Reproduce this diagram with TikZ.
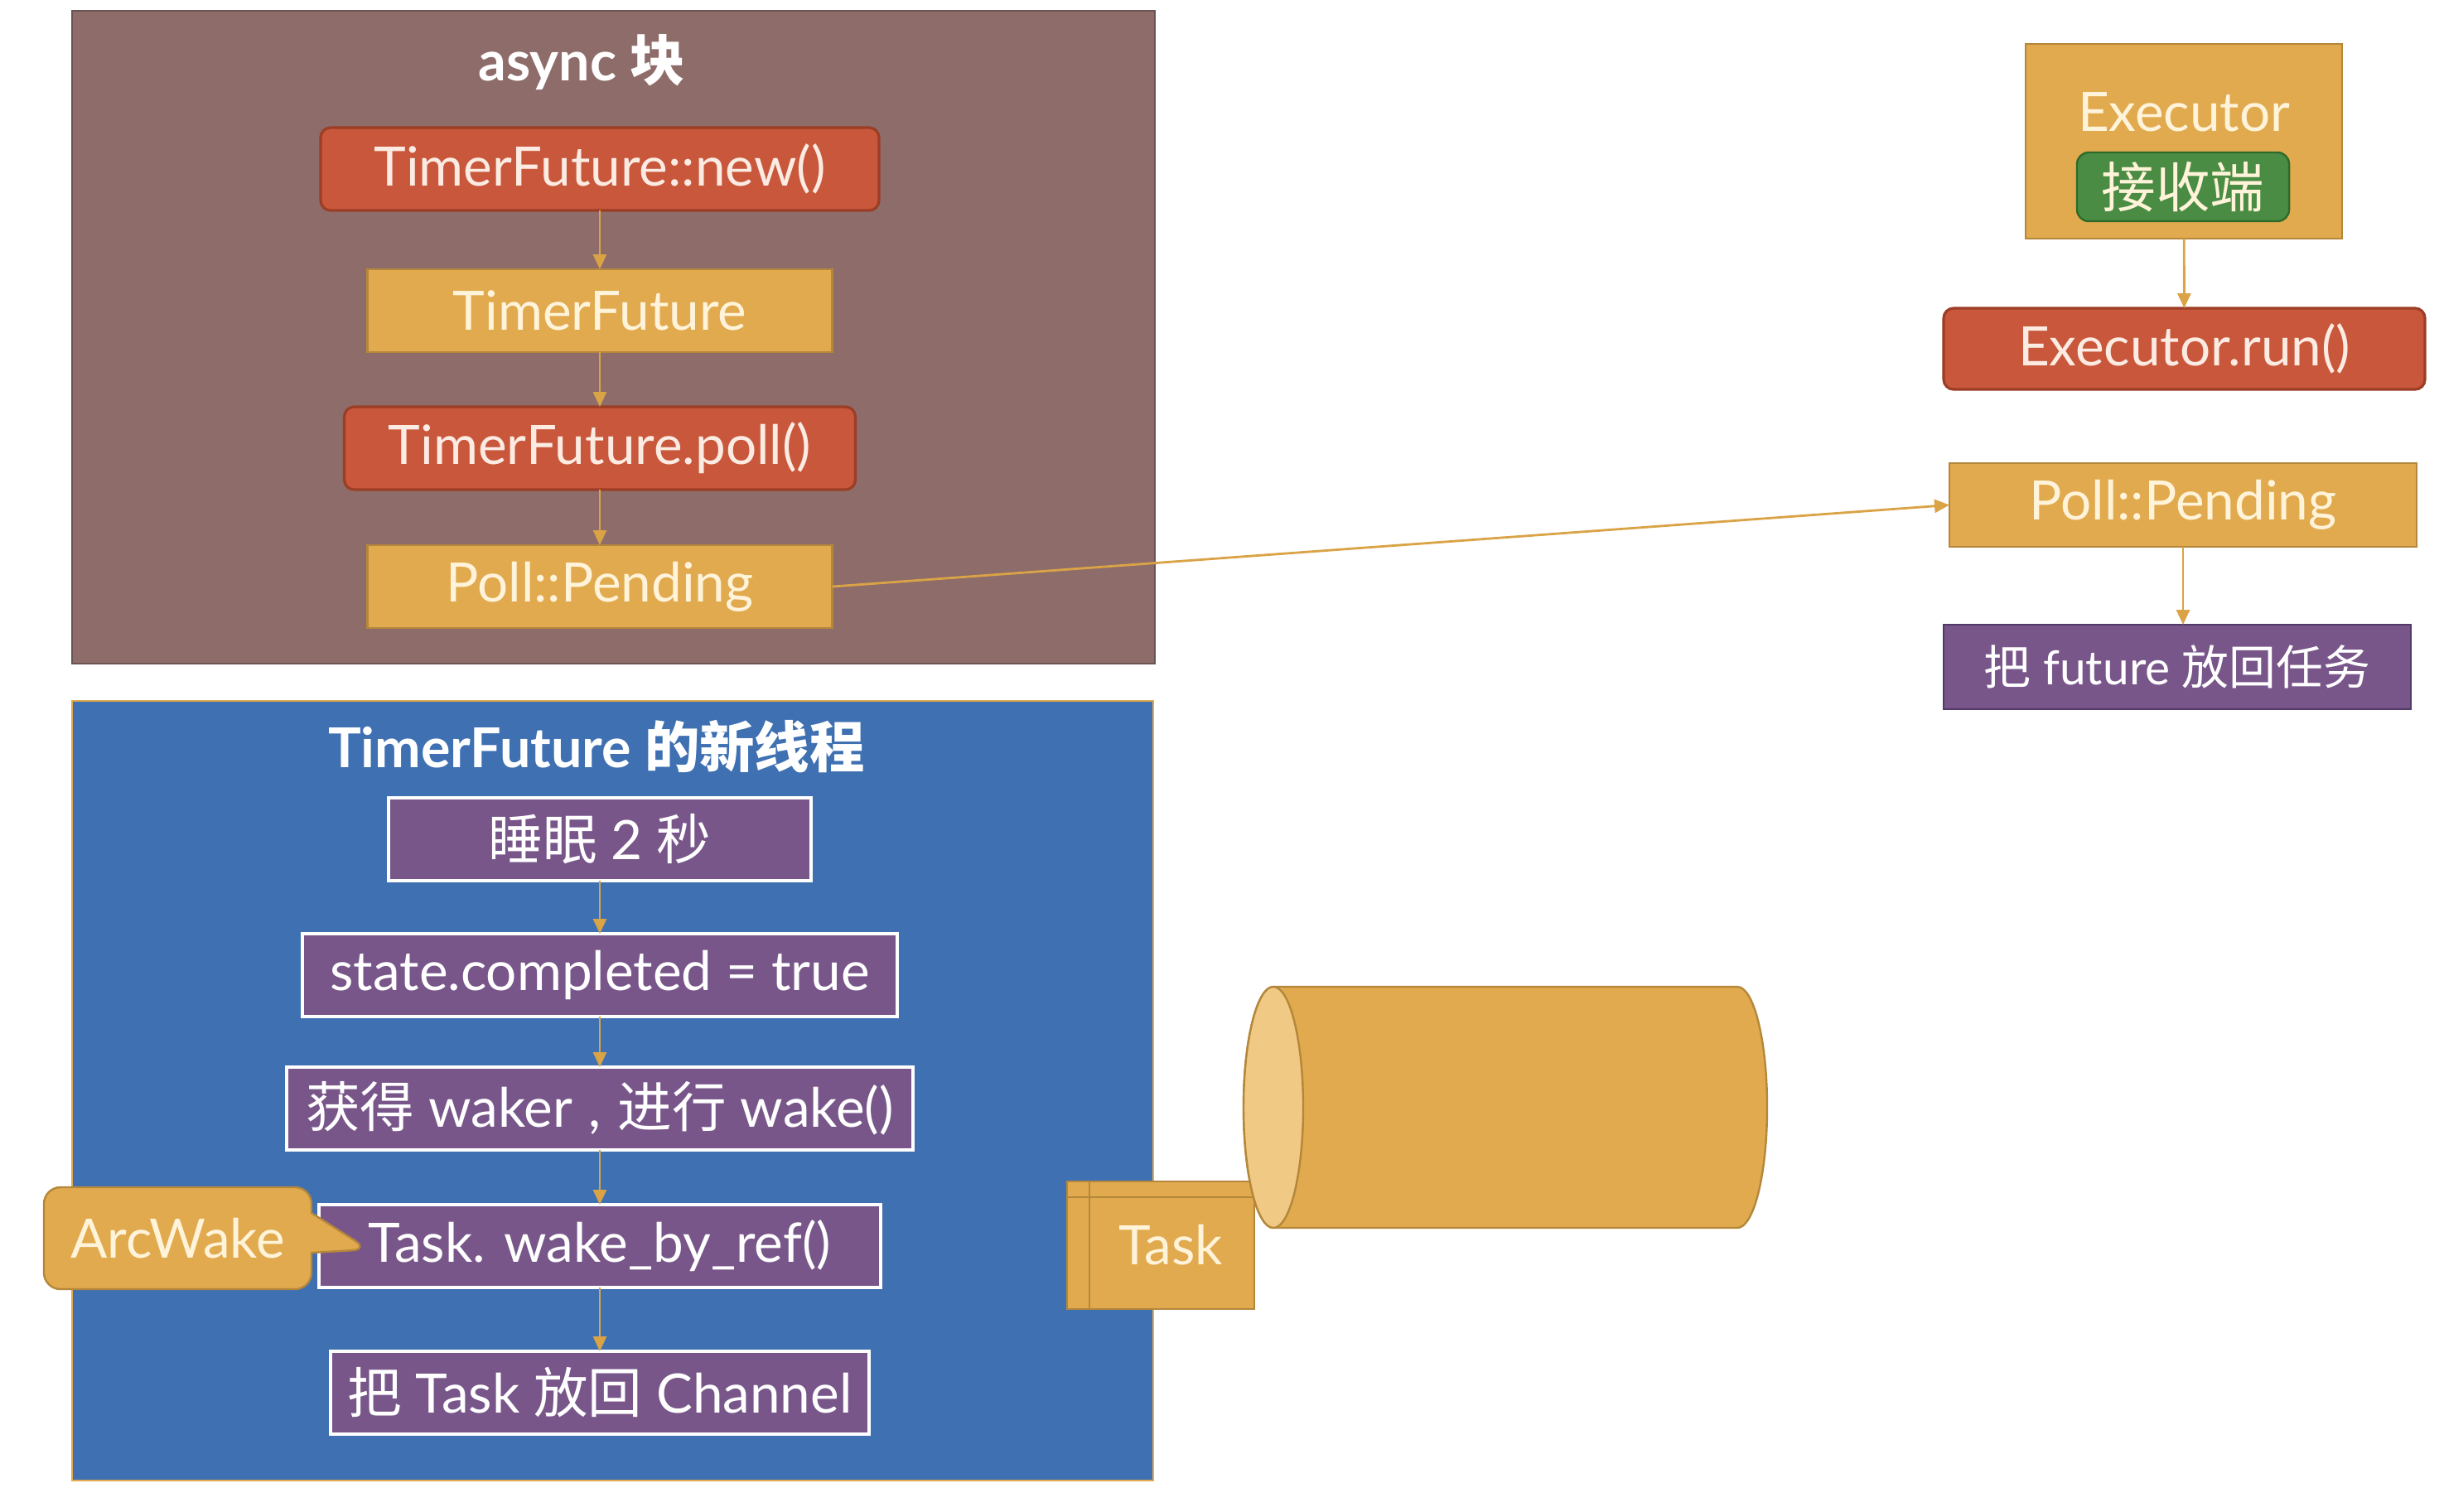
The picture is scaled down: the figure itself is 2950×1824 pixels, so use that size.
\documentclass[tikz,border=0pt]{standalone}
\usepackage{fontspec}
\setmainfont{Lato}
\newfontfamily\cjk{Noto Sans CJK SC}
\usetikzlibrary{arrows.meta, positioning, calc, shapes.callouts}

\definecolor{tmauve}{HTML}{8E6C6A}
\definecolor{tmauved}{HTML}{6A5453}
\definecolor{tred}{HTML}{C9573B}
\definecolor{tredd}{HTML}{9C3D26}
\definecolor{tredt}{HTML}{FBEBE2}
\definecolor{tgold}{HTML}{E1AA4E}
\definecolor{tgoldd}{HTML}{B4873B}
\definecolor{tcream}{HTML}{FFF3DA}
\definecolor{tface}{HTML}{F0CA84}
\definecolor{tblue}{HTML}{3E70B2}
\definecolor{tpurp}{HTML}{78568A}
\definecolor{tpurpd}{HTML}{513A68}
\definecolor{tgreen}{HTML}{4A8C43}
\definecolor{tgreend}{HTML}{2F6A2B}
\definecolor{tline}{HTML}{D9A346}

\begin{document}
\begin{tikzpicture}[
  x=0.25pt, y=-0.25pt,
  box/.style = {inner sep=0pt, outer sep=0pt, minimum height=25pt, align=center, font=\fontsize{16.4}{19}\selectfont},
  panel/.style = {inner sep=0pt, line width=0.6pt},
  title/.style = {text=white, font=\fontsize{16.6}{19}\selectfont\bfseries},
  redbox/.style = {box, fill=tred, draw=tredd, line width=0.8pt, rounded corners=3pt, text=tredt},
  goldbox/.style = {box, fill=tgold, draw=tgoldd, line width=0.6pt, text=tcream},
  purplebox/.style = {box, fill=tpurp, draw=white, line width=1.2pt, text=white},
  greenbox/.style = {box, fill=tgreen, draw=tgreend, line width=0.6pt, rounded corners=3.5pt, text=tcream},
  arrow/.style = {draw=tline, line width=0.7pt, -{Triangle[width=4pt,length=4.5pt]}}
]
  \useasboundingbox[fill=white] (0,0) rectangle (2950,1824);

  % ======================================================
  % async block
  % ======================================================
  \node[panel, fill=tmauve, draw=tmauved, minimum width=326.75pt, minimum height=197pt] (asyncbox) at (740.5,407) {};
  \node[title] (asynctitle) at (702,75) {async {\cjk 块}};

  \node[redbox, minimum width=168.5pt] (tfnew) at (724,204) {TimerFuture::new()};
  \node[goldbox, minimum width=140.25pt, below=17.75pt of tfnew] (tf) {TimerFuture};
  \node[redbox, minimum width=154.25pt, below=16.5pt of tf] (tfpoll) {TimerFuture.poll()};
  \node[goldbox, minimum width=140.25pt, below=16.75pt of tfpoll] (pend) {Poll::Pending};

  \draw[arrow] (tfnew) -- (tf);
  \draw[arrow] (tf) -- (tfpoll);
  \draw[arrow] (tfpoll) -- (pend);

  % ======================================================
  % TimerFuture thread
  % ======================================================
  \node[panel, fill=tblue, draw=tgold, minimum width=326.25pt, minimum height=235.25pt] (threadbox) at (739.5,1316.5) {};
  \node[title] (threadtitle) at (720,901) {TimerFuture {\cjk 的新线程}};

  \node[purplebox, minimum width=127.5pt] (sleep) at (724,1013) {{\cjk 睡眠} 2 {\cjk 秒}};
  \node[purplebox, minimum width=179.5pt, below=16pt of sleep] (done) {state.completed = true};
  \node[purplebox, minimum width=189pt, below=15.25pt of done] (waker) {{\cjk 获得} waker\hspace{5pt},\hspace{5pt}{\cjk 进行} wake()};
  \node[purplebox, minimum width=169.5pt, below=16.5pt of waker] (wake) {Task. wake\_by\_ref()};
  \node[purplebox, minimum width=162.5pt, below=19.25pt of wake] (putback) {{\cjk 把} Task {\cjk 放回} Channel};

  \draw[arrow] (sleep) -- (done);
  \draw[arrow] (done) -- (waker);
  \draw[arrow] (waker) -- (wake);
  \draw[arrow] (wake) -- (putback);

  % ArcWake callout
  \node[rectangle callout, box, fill=tgold, draw=tgoldd, line width=0.6pt, text=tcream,
        rounded corners=5pt, minimum width=80.75pt, minimum height=30.75pt,
        callout pointer width=12pt,
        callout absolute pointer={($(wake.west)+(15pt,-1pt)$)}] (arcwake) at (214.5,1494.5) {ArcWake};

  % Task
  \node[goldbox, minimum width=56.5pt, minimum height=38.5pt] (task) at (1401,1503) {\hspace{6pt}Task};
  \draw[tgoldd, line width=0.6pt] ($(task.north west)+(0,-4.75pt)$) -- ($(task.north east)+(0,-4.75pt)$);
  \draw[tgoldd, line width=0.6pt] ($(task.north west)+(6.75pt,0)$) -- ($(task.south west)+(6.75pt,0)$);

  % channel
  \draw[fill=tgold, draw=tgoldd, line width=0.6pt] (1537,1191) -- (2097,1191)
    arc[start angle=-90, end angle=90, x radius=36, y radius=145.5] -- (1537,1482)
    arc[start angle=90, end angle=270, x radius=36, y radius=145.5] -- cycle;
  \draw[fill=tface, draw=tgoldd, line width=0.6pt] (1537,1336.5) ellipse[x radius=36, y radius=145.5];

  % ======================================================
  % Executor
  % ======================================================
  \node[goldbox, minimum width=95.5pt, minimum height=58.75pt] (exec) at (2636,170.5) {};
  \node[box, text=tcream] (execlabel) at (2636,135) {Executor};
  \node[greenbox, minimum width=64pt, minimum height=20.75pt] (recv) at (2635,225.5) {\cjk 接收端};

  \node[redbox, minimum width=145.25pt, minimum height=24.5pt] (run) at (2636.5,421) {Executor.run()};
  \node[goldbox, minimum width=141pt, minimum height=25.25pt] (rpend) at (2635,609.5) {Poll::Pending};
  \node[box, fill=tpurp, draw=tpurpd, line width=0.6pt, text=white, minimum width=141pt, minimum height=25.5pt,
        font=\fontsize{14.2}{17}\selectfont] (back) at (2628,805) {{\cjk 把} future {\cjk 放回任务}};

  \draw[arrow] (exec) -- (run);
  \draw[arrow] (rpend) -- (rpend |- back.north);

  % pending -> executor
  \draw[arrow] (pend.east) -- (rpend.west);

\end{tikzpicture}
\end{document}
